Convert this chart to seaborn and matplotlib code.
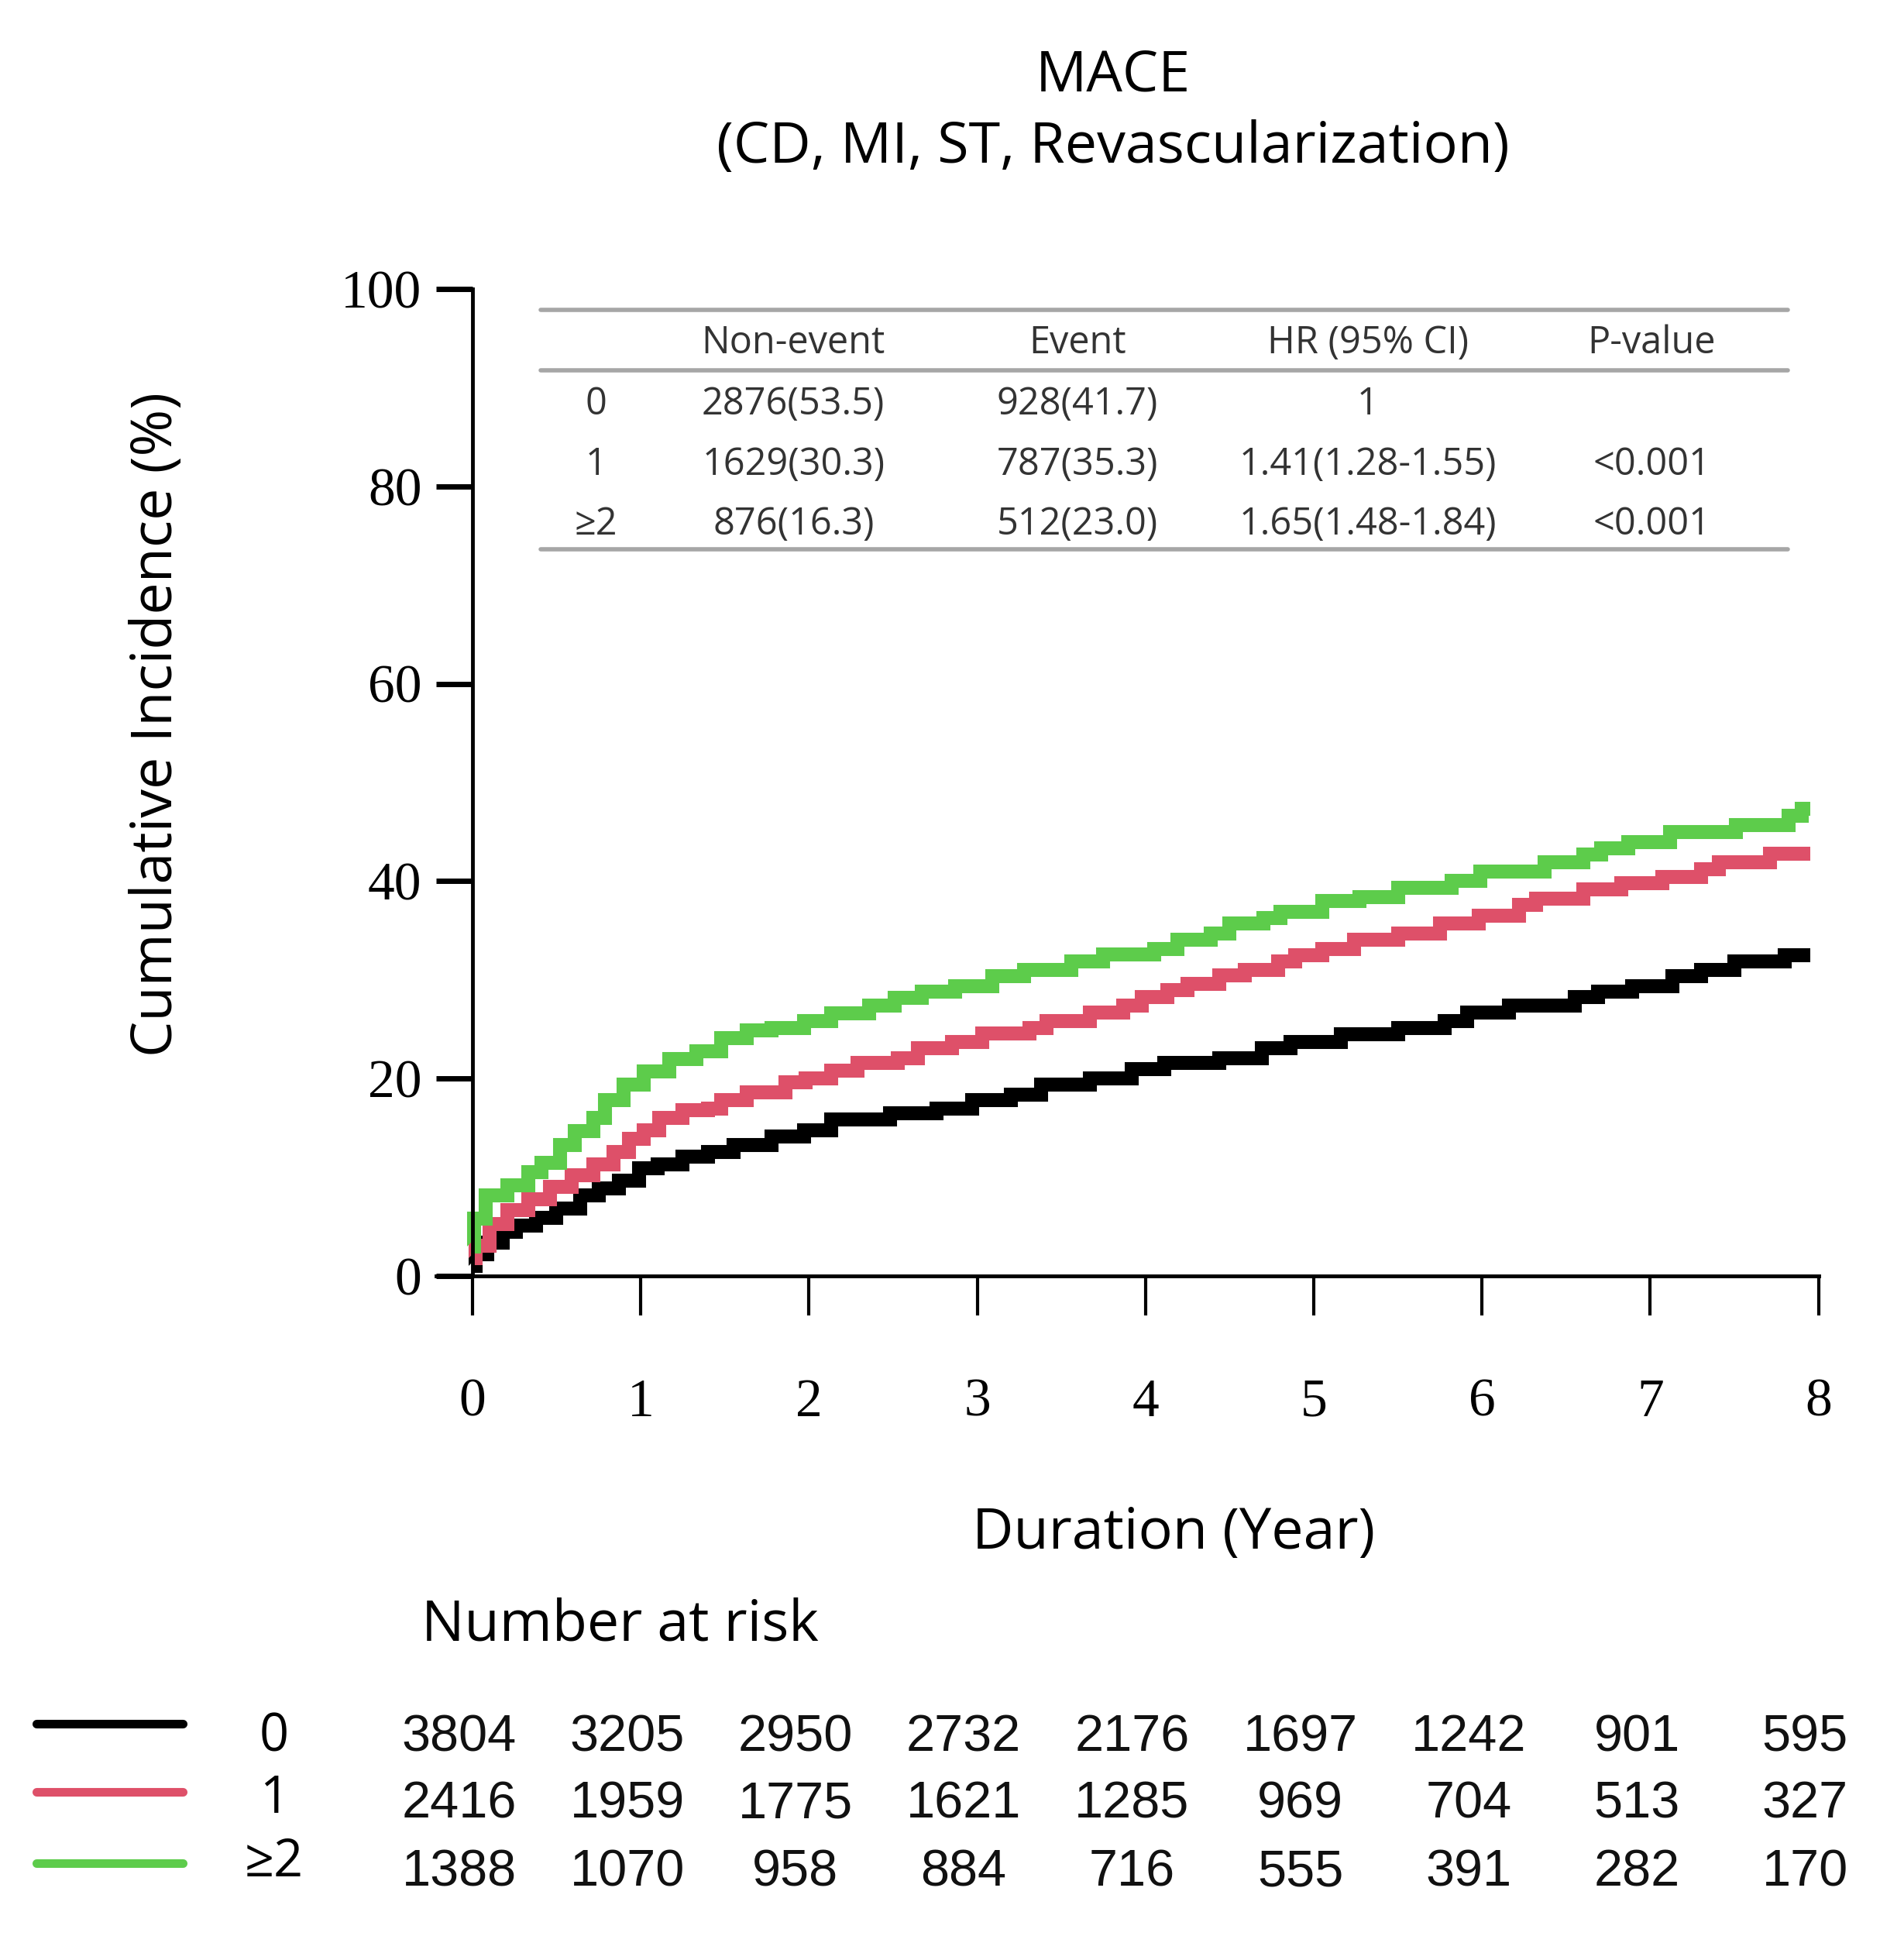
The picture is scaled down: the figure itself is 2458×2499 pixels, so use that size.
import matplotlib
matplotlib.use("Agg")
import matplotlib.pyplot as plt
import matplotlib.transforms as mtransforms
import seaborn as sns
import pandas as pd

# ---------------- data ----------------
groups = ["0", "1", "\u22652"]
colors = ["#000000", "#DE5069", "#5DCC4B"]

time_0 = [0, 0.02, 0.09, 0.18, 0.26, 0.38, 0.50, 0.64, 0.75, 0.87, 0.99, 1.10, 1.25, 1.40,
          1.55, 1.78, 1.97, 2.13, 2.48, 2.76, 2.97, 3.20, 3.38, 3.67, 3.92, 4.11, 4.44, 4.69,
          4.86, 5.16, 5.50, 5.78, 5.91, 6.16, 6.55, 6.69, 6.89, 7.13, 7.30, 7.50, 7.80, 7.95]
inc_0 = [1.0, 2.2, 3.4, 4.5, 5.1, 5.9, 6.8, 8.2, 8.9, 9.7, 10.9, 11.3, 12.1, 12.6,
         13.3, 14.1, 14.8, 15.9, 16.5, 17.0, 17.8, 18.4, 19.4, 20.0, 21.0, 21.6, 22.1, 23.1,
         23.7, 24.5, 25.1, 25.8, 26.7, 27.4, 28.3, 28.8, 29.4, 30.4, 31.0, 31.9, 32.5, 32.5]

time_1 = [0, 0.02, 0.10, 0.21, 0.33, 0.46, 0.59, 0.72, 0.84, 0.93, 1.02, 1.11, 1.25, 1.40,
          1.48, 1.63, 1.86, 1.98, 2.13, 2.29, 2.53, 2.65, 2.85, 3.03, 3.31, 3.41, 3.67, 3.87,
          3.98, 4.13, 4.25, 4.44, 4.59, 4.79, 4.89, 5.05, 5.24, 5.50, 5.75, 5.98, 6.22, 6.32,
          6.60, 6.83, 7.07, 7.30, 7.41, 7.71, 7.95]
inc_1 = [1.8, 3.1, 5.3, 6.7, 7.8, 9.0, 10.2, 11.3, 12.6, 13.9, 14.8, 16.0, 16.8, 17.0,
         17.8, 18.6, 19.6, 20.0, 20.8, 21.6, 22.1, 23.1, 23.7, 24.6, 25.1, 25.8, 26.7, 27.4,
         28.3, 29.0, 29.6, 30.5, 31.0, 31.9, 32.5, 33.1, 34.1, 34.7, 35.7, 36.5, 37.6, 38.2,
         39.2, 39.8, 40.4, 41.2, 41.9, 42.8, 42.8]

time_2 = [0, 0.01, 0.08, 0.21, 0.33, 0.41, 0.52, 0.61, 0.72, 0.79, 0.90, 1.02, 1.17, 1.33,
          1.48, 1.63, 1.78, 1.97, 2.13, 2.36, 2.51, 2.67, 2.87, 3.09, 3.28, 3.56, 3.75, 4.05,
          4.19, 4.39, 4.50, 4.70, 4.80, 5.05, 5.27, 5.50, 5.82, 5.99, 6.37, 6.60, 6.71, 6.87,
          7.12, 7.51, 7.82, 7.90, 7.95]
inc_2 = [3.0, 5.8, 8.2, 9.2, 10.5, 11.5, 13.3, 14.7, 16.0, 17.8, 19.4, 20.7, 22.0, 22.8,
         24.1, 24.9, 25.1, 25.8, 26.6, 27.4, 28.2, 28.8, 29.4, 30.4, 31.0, 31.9, 32.6, 33.1,
         34.1, 34.7, 35.7, 36.3, 36.9, 38.0, 38.4, 39.3, 40.0, 41.0, 41.9, 42.7, 43.3, 44.0,
         45.0, 45.7, 46.6, 47.3, 47.3]

x_ticks = [0, 1, 2, 3, 4, 5, 6, 7, 8]
y_ticks = [0, 20, 40, 60, 80, 100]

risk_0 = [3804, 3205, 2950, 2732, 2176, 1697, 1242, 901, 595]
risk_1 = [2416, 1959, 1775, 1621, 1285, 969, 704, 513, 327]
risk_2 = [1388, 1070, 958, 884, 716, 555, 391, 282, 170]

table_header = ["", "Non-event", "Event", "HR (95% CI)", "P-value"]
table_row_0 = ["0", "2876(53.5)", "928(41.7)", "1", ""]
table_row_1 = ["1", "1629(30.3)", "787(35.3)", "1.41(1.28-1.55)", "<0.001"]
table_row_2 = ["\u22652", "876(16.3)", "512(23.0)", "1.65(1.48-1.84)", "<0.001"]

title_lines = ["MACE", "(CD, MI, ST, Revascularization)"]
x_label = "Duration (Year)"
y_label = "Cumulative Incidence (%)"

# ---------------- style ----------------
sns.set_style("white")
SANS = ["Open Sans", "DejaVu Sans"]
SERIF = ["Liberation Serif", "DejaVu Serif"]
plt.rcParams["font.family"] = SANS
plt.rcParams["text.color"] = "black"
plt.rcParams["xtick.color"] = "black"
plt.rcParams["ytick.color"] = "black"

fig = plt.figure(figsize=(24.58, 24.99), dpi=100)
ax = fig.add_axes([0.2291, 0.3409, 0.7260, 0.5098])

df = pd.concat([
    pd.DataFrame({"time": t, "inc": v, "group": g})
    for t, v, g in zip([time_0, time_1, time_2], [inc_0, inc_1, inc_2], groups)
], ignore_index=True)

sns.lineplot(data=df, x="time", y="inc", hue="group", hue_order=groups,
             palette=dict(zip(groups, colors)), estimator=None, sort=False,
             drawstyle="steps-post", linewidth=13, legend=False, ax=ax,
             solid_joinstyle="miter", solid_capstyle="butt")

ax.set_xlim(-0.215, 8)
ax.set_ylim(0, 100)
ax.spines["left"].set_position(("data", 0))
ax.spines["top"].set_visible(False)
ax.spines["right"].set_visible(False)
ax.spines["left"].set_linewidth(3.5)
ax.spines["bottom"].set_linewidth(3.5)
ax.spines["left"].set_color("black")
ax.spines["bottom"].set_color("black")
ax.set_xticks(x_ticks)
ax.set_yticks(y_ticks)
ax.set_xticklabels([str(v) for v in x_ticks], family=SERIF)
ax.set_yticklabels([str(v) for v in y_ticks], family=SERIF)
ax.tick_params(axis="x", direction="out", length=37, width=3, pad=58, labelsize=50,
               bottom=True, colors="black")
ax.tick_params(axis="y", direction="out", length=34, width=5, pad=13, labelsize=50,
               left=True, colors="black")
ax.set_xlabel("")
ax.set_ylabel("")
ax.grid(False)

# ---------------- embedded table ----------------
col_x = [0.734, 1.908, 3.596, 5.321, 7.009]
row_y = [94.5, 88.3, 82.2, 76.1]
line_kw = dict(color="#A6A6A6", linewidth=4, xmin=0.0753, xmax=0.9777)
for yy in [97.9, 91.8, 73.6]:
    ax.axhline(yy, **line_kw)
for ry, row in zip(row_y, [table_header, table_row_0, table_row_1, table_row_2]):
    for cx, txt in zip(col_x, row):
        ax.text(cx, ry, txt, ha="center", va="center", fontsize=35,
                color="#333333", family=SANS)

# ---------------- titles / labels ----------------
fig.text(0.5846, 0.9528, title_lines[0], ha="center", va="baseline", fontsize=53, color="black")
fig.text(0.5846, 0.916, title_lines[1], ha="center", va="baseline", fontsize=53, color="black")
fig.text(0.6164, 0.2001, x_label, ha="center", va="baseline", fontsize=53, color="black")
fig.text(0.0826, 0.626, y_label, ha="center", va="center", rotation=90, fontsize=53,
         color="black")

# ---------------- number at risk ----------------
fig.text(0.2213, 0.1525, "Number at risk", ha="left", va="baseline", fontsize=53, color="black")
blend = mtransforms.blended_transform_factory(ax.transData, fig.transFigure)
row_base = [0.0956, 0.0612, 0.0260]
line_y = [0.1096, 0.0744, 0.0376]
label_base = [0.0956, 0.0636, 0.0308]
for risk, g, col, yb, ly, lb in zip([risk_0, risk_1, risk_2], groups, colors,
                                    row_base, line_y, label_base):
    fig.add_artist(plt.Line2D([0.019, 0.096], [ly, ly], color=col, linewidth=8,
                              transform=fig.transFigure))
    fig.text(0.144, lb, g, ha="center", va="baseline", fontsize=48, family=SANS, color="black")
    for t, n in zip(x_ticks, risk):
        fig.text(t - 0.08, yb, str(n), ha="center", va="baseline", fontsize=48,
                 family=["Liberation Sans", "DejaVu Sans"], color="#111111",
                 transform=blend)

fig.savefig("out.png", dpi=100, facecolor="white")
